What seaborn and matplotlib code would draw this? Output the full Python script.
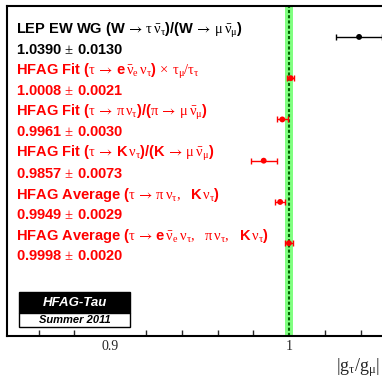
import matplotlib
matplotlib.use("Agg")
import matplotlib.pyplot as plt
import seaborn as sns
import pandas as pd
from matplotlib.patches import Rectangle

sns.set_style("white")
plt.rcParams["font.family"] = ["Liberation Sans", "DejaVu Sans"]
plt.rcParams["mathtext.fontset"] = "custom"
plt.rcParams["mathtext.rm"] = "Liberation Serif"
plt.rcParams["mathtext.it"] = "Liberation Serif"
plt.rcParams["mathtext.bf"] = "Liberation Serif:bold"
plt.rcParams["mathtext.cal"] = "STIXGeneral"

A = r"\,\mathcal{\rightarrow}\,"
labels = [
    rf"LEP EW WG (W${A}\tau\,\bar{{\nu}}_\tau$)/(W${A}\mu\,\bar{{\nu}}_\mu$)",
    rf"HFAG Fit ($\tau{A}$e$\,\bar{{\nu}}_\mathrm{{e}}\,\nu_\tau$)$\,\times\,\tau_\mu/\tau_\tau$",
    rf"HFAG Fit ($\tau{A}\pi\,\nu_\tau$)/($\pi{A}\mu\,\bar{{\nu}}_\mu$)",
    rf"HFAG Fit ($\tau{A}$K$\,\nu_\tau$)/(K${A}\mu\,\bar{{\nu}}_\mu$)",
    rf"HFAG Average ($\tau{A}\pi\,\nu_\tau,$  K$\,\nu_\tau$)",
    rf"HFAG Average ($\tau{A}$e$\,\bar{{\nu}}_\mathrm{{e}}\,\nu_\tau,$  $\pi\,\nu_\tau,$  K$\,\nu_\tau$)",
]
values = [1.0390, 1.0008, 0.9961, 0.9857, 0.9949, 0.9998]
errors = [0.0130, 0.0021, 0.0030, 0.0073, 0.0029, 0.0020]
colors = ["black", "red", "red", "red", "red", "red"]
rows = [7.25, 6.25, 5.25, 4.25, 3.25, 2.25]

df = pd.DataFrame({"label": labels, "value": values, "error": errors,
                   "color": colors, "row": rows})

W, H = 382, 381
fig = plt.figure(figsize=(W / 100, H / 100), dpi=100)
x0, x1 = 0.8423, 1.10
ax = fig.add_axes([7 / W, 45 / H, (x1 - x0) * 1790 / W, 330 / H])

# band of the final average
avg, err = values[-1], errors[-1]
ax.axvspan(avg - err, avg + err, color="#80ff80", lw=0, zorder=1)
ax.axvline(avg, color="#006400", ls=(0, (1.5, 1.0)), lw=1.5, zorder=2)

for _, r in df.iterrows():
    ax.errorbar(r["value"], r["row"], xerr=r["error"], fmt="none",
                ecolor=r["color"], elinewidth=1, capsize=2, capthick=1, zorder=3)
sns.scatterplot(data=df, x="value", y="row", hue="color",
                palette={"black": "black", "red": "red"}, s=18,
                edgecolor="none", legend=False, ax=ax, zorder=4)

for _, r in df.iterrows():
    ax.annotate(r["label"], xy=(0, r["row"]), xycoords=ax.get_yaxis_transform(),
                xytext=(6.5, 2.4), textcoords="offset points", va="baseline",
                fontsize=10.5, fontweight="bold", color=r["color"])
    ax.annotate(f"{r['value']:.4f}" + r"$\,\pm\,$" + f"{r['error']:.4f}",
                xy=(0, r["row"]), xycoords=ax.get_yaxis_transform(),
                xytext=(6.5, -12.2), textcoords="offset points", va="baseline",
                fontsize=10.5, fontweight="bold", color=r["color"])

ax.set_xlim(x0, x1)
ax.set_ylim(0, 8)
ax.set_yticks([])
ax.set_xticks([0.9, 1.0])
ax.set_xticklabels(["0.9", "1"], family="Liberation Serif", fontsize=10)
ax.set_xticks([0.86, 0.88, 0.92, 0.94, 0.96, 0.98, 1.02, 1.04, 1.06, 1.08], minor=True)
ax.tick_params(axis="x", which="major", direction="in", length=7, width=1, pad=3)
ax.tick_params(axis="x", which="minor", direction="in", length=4, width=1, bottom=True)
for s in ax.spines.values():
    s.set_color("black")
    s.set_linewidth(1.5)
ax.set_ylabel("")
ax.set_xlabel("")

fig.text(336 / W, 1 - 368 / H, r"$|\mathrm{g}_\tau/\mathrm{g}_\mu|$", fontsize=13,
         va="center", ha="left")

# HFAG-Tau stamp
fig.patches.append(Rectangle((19 / W, 1 - 313 / H), 111 / W, 21 / H, transform=fig.transFigure,
                             facecolor="black", edgecolor="black", lw=1))
fig.patches.append(Rectangle((19 / W, 1 - 327 / H), 111 / W, 14 / H, transform=fig.transFigure,
                             facecolor="white", edgecolor="black", lw=1))
fig.text(74.5 / W, 1 - 302.5 / H, "HFAG-Tau", color="white", fontsize=9.5,
         fontweight="bold", style="italic", ha="center", va="center")
fig.text(74.5 / W, 1 - 320 / H, "Summer 2011", color="black", fontsize=8,
         fontweight="bold", style="italic", ha="center", va="center")

fig.savefig("out.png", dpi=100)
